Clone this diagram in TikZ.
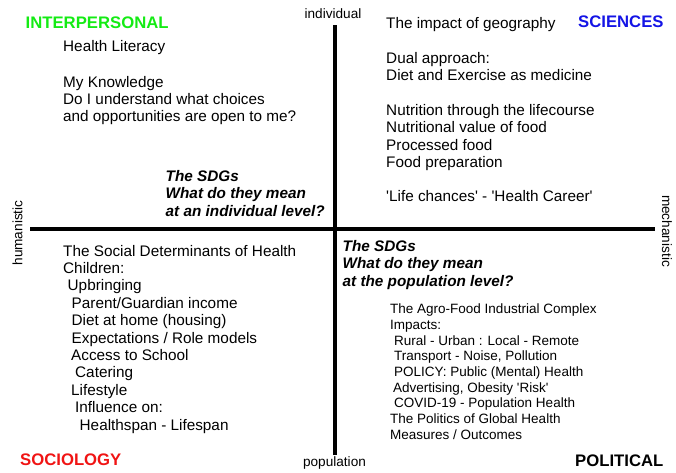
\documentclass[tikz,border=0pt]{standalone}
\usepackage{fontspec}
\setmainfont{Liberation Sans}
\usepackage{tikz}

\begin{document}
\begin{tikzpicture}[x=1pt,y=-1pt,
  txt/.style={anchor=base west,inner sep=0pt,align=left,font=\fontsize{15.3}{17.4}\selectfont},
  small/.style={anchor=base west,inner sep=0pt,align=left,font=\fontsize{13.5}{15.66}\selectfont},
  sdg/.style={anchor=base west,inner sep=0pt,align=left,font=\fontsize{15.3}{17.6}\selectfont\bfseries\itshape},
  head/.style={anchor=base west,inner sep=0pt,font=\fontsize{16.7}{19}\selectfont\bfseries},
  axlab/.style={inner sep=0pt,font=\fontsize{13.6}{15}\selectfont}]
\useasboundingbox (0,0) rectangle (676,472);
% axes
\draw[line width=3.8pt] (335,25) -- (335,455);
\draw[line width=4.2pt] (30,229) -- (655,229);
\node[axlab,anchor=base] (ind) at (333,18.5) {individual};
\node[axlab,anchor=base] (pop) at (334.5,466) {population};
\node[axlab,rotate=90] (hum) at (17.5,233) {humanistic};
\node[axlab,rotate=-90] (mech) at (667,231) {mechanistic};
% quadrant titles
\node[head,text={rgb,255:red,20;green,235;blue,20}] (inter) at (25.5,28) {INTERPERSONAL};
\node[head,text={rgb,255:red,20;green,20;blue,230}] (sci) at (578,27) {SCIENCES};
\node[head,text={rgb,255:red,240;green,20;blue,20}] (socio) at (20,465) {SOCIOLOGY};
\node[head] (poli) at (575,466) {POLITICAL};
% upper left (base = last line)
\node[txt] (lit) at (63,51.7) {Health Literacy};
\node[txt] (know) at (63,121.8) {My Knowledge\\Do I understand what choices\\and opportunities are open to me?};
\node[sdg] (sdgind) at (165.5,216.2) {The SDGs\\What do they mean\\at an individual level?};
% upper right
\node[txt] (geo) at (386,28.3) {The impact of geography};
\node[txt] (dual) at (386,80.8) {Dual approach:\\Diet and Exercise as medicine};
\node[txt] (nutr) at (386,167.5) {Nutrition through the lifecourse\\Nutritional value of food\\Processed food\\Food preparation};
\node[txt] (life) at (386,201) {\textquotesingle Life chances\textquotesingle{} - \textquotesingle Health Career\textquotesingle};
% lower left
\node[txt] (sdh) at (63,430) {The Social Determinants of Health\\Children:\\
  \hspace{4.5pt}Upbringing\\
  \hspace{8.5pt}Parent/Guardian income\\
  \hspace{8.5pt}Diet at home (housing)\\
  \hspace{8.5pt}Expectations / Role models\\
  \hspace{8pt}Access to School\\
  \hspace{12pt}Catering\\
  \hspace{8pt}Lifestyle\\
  \hspace{12pt}Influence on:\\
  \hspace{16.5pt}Healthspan - Lifespan};
% lower right
\node[sdg] (sdgpop) at (342.5,286.2) {The SDGs\\What do they mean\\at the population level?};
\node[small] (agro) at (390,439) {The Agro-Food Industrial Complex\\Impacts:\\
  \hspace{4pt}Rural - Urban : Local - Remote\\
  \hspace{4pt}Transport - Noise, Pollution\\
  \hspace{4pt}POLICY: Public (Mental) Health\\
  \hspace{3pt}Advertising, Obesity \textquotesingle Risk\textquotesingle\\
  \hspace{4pt}COVID-19 - Population Health\\
  The Politics of Global Health\\
  Measures / Outcomes};
\end{tikzpicture}
\end{document}
